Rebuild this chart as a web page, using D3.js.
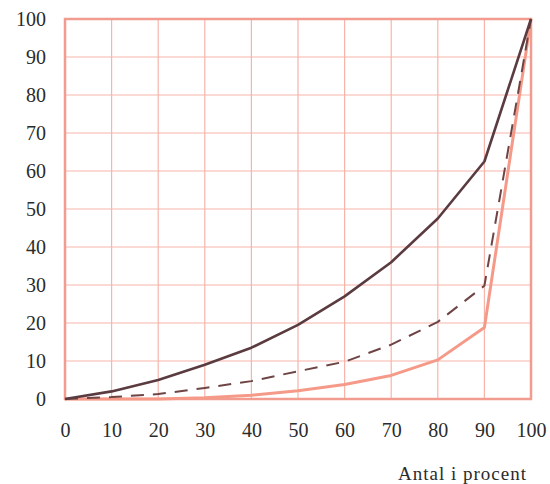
<!DOCTYPE html>
<html><head><meta charset="utf-8">
<script src="https://cdn.jsdelivr.net/npm/d3@7"></script>
<style>body{margin:0;background:#fff}svg{display:block}</style>
</head><body>
<svg id="c" width="550" height="484"></svg>
<script>
const xValues = [0,10,20,30,40,50,60,70,80,90,100];
const solidDark = [0,2,5,9,13.5,19.5,27,36,47.5,62.5,100];
const dashed = [0,0.5,1.3,2.9,4.7,7.3,9.8,14.3,20.3,29.8,100];
const pinkLine = [0,0,0,0.3,1,2.2,3.8,6.2,10.3,18.8,100];
const xTicks = [0,10,20,30,40,50,60,70,80,90,100];
const yTicks = [0,10,20,30,40,50,60,70,80,90,100];
const xTitle = "Antal i procent";

const font = "Liberation Serif";
const svg = d3.select("#c");
const L=65, R=531, T=19, B=399;
const x = d3.scaleLinear().domain([0,100]).range([L,R]);
const y = d3.scaleLinear().domain([0,100]).range([B,T]);

const g = svg.append("g");
g.selectAll("line.v").data(xTicks).join("line")
  .attr("x1",d=>x(d)).attr("x2",d=>x(d)).attr("y1",T).attr("y2",B)
  .attr("stroke","#f7b4ab").attr("stroke-width",1.2);
g.selectAll("line.h").data(yTicks).join("line")
  .attr("y1",d=>y(d)).attr("y2",d=>y(d)).attr("x1",L).attr("x2",R)
  .attr("stroke","#f7b4ab").attr("stroke-width",1.2);
g.append("rect").attr("x",L).attr("y",T).attr("width",R-L).attr("height",B-T)
  .attr("fill","none").attr("stroke","#f29c90").attr("stroke-width",2.5);

const xAxis = svg.append("g").attr("transform",`translate(0,${B})`)
  .call(d3.axisBottom(x).tickValues(xTicks).tickSize(0).tickPadding(24).tickFormat(d3.format("d")));
const yAxis = svg.append("g").attr("transform",`translate(${L},0)`)
  .call(d3.axisLeft(y).tickValues(yTicks).tickSize(0).tickPadding(19).tickFormat(d3.format("d")));
[xAxis,yAxis].forEach(a=>{
  a.attr("font-family",font).attr("font-size",20);
  a.select(".domain").remove();
  a.selectAll("text").attr("font-family",font).attr("font-size",20).attr("fill","#2a2c2c");
});

const line = d3.line().x((d,i)=>x(xValues[i])).y(d=>y(d));
svg.append("path").datum(pinkLine).attr("d",line).attr("fill","none")
  .attr("stroke","#f59a88").attr("stroke-width",3).attr("stroke-linejoin","round");
svg.append("path").datum(dashed).attr("d",line).attr("fill","none")
  .attr("stroke","#6e4444").attr("stroke-width",2).attr("stroke-dasharray","13,9");
svg.append("path").datum(solidDark).attr("d",line).attr("fill","none")
  .attr("stroke","#5a3b40").attr("stroke-width",2.6).attr("stroke-linejoin","round");

svg.append("text").attr("x",527).attr("y",480).attr("text-anchor","end")
  .attr("font-family",font).attr("font-size",19).attr("letter-spacing",1)
  .attr("fill","#2a2c2c").text(xTitle);
</script>
</body></html>
